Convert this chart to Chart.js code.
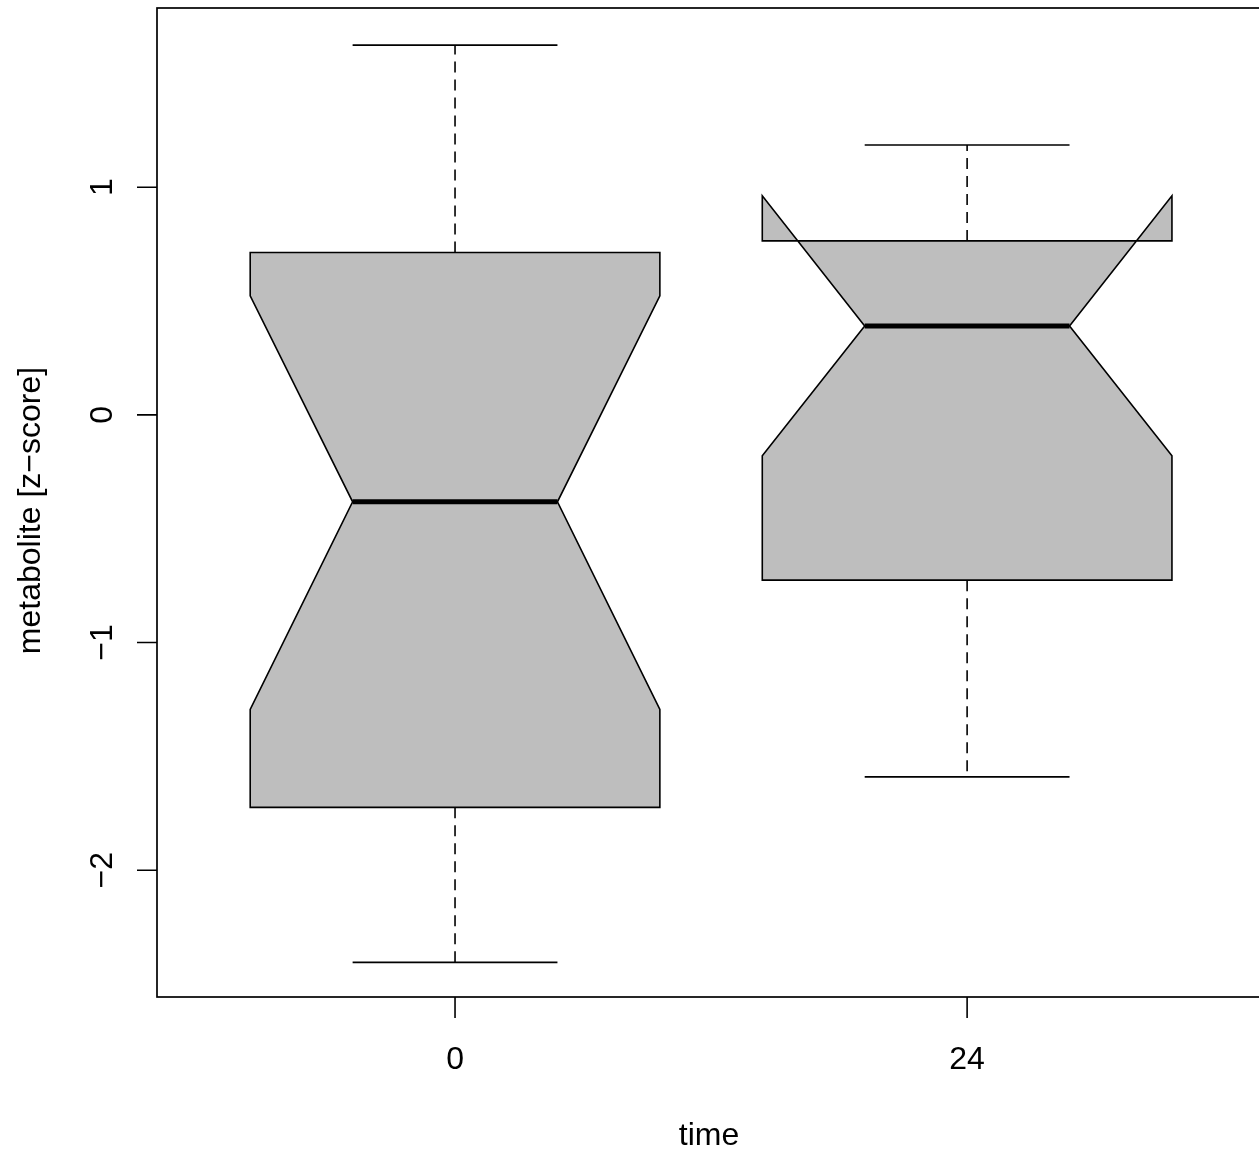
<!DOCTYPE html>
<html>
<head>
<meta charset="utf-8">
<script src="https://cdn.jsdelivr.net/npm/chart.js@4/dist/chart.umd.min.js"></script>
<style>
  html, body { margin: 0; padding: 0; background: #ffffff; overflow: hidden; }
  #wrap { width: 1259px; height: 1151px; position: relative; }
</style>
</head>
<body>
<div id="wrap"><canvas id="boxChart"></canvas></div>
<script>
// values (notched boxplot, metabolite z-score by time)
const groups = ['0', '24'];
const whiskerLow = [-2.405, -1.590];
const q1 = [-1.724, -0.726];
const median = [-0.382, 0.390];
const q3 = [0.713, 0.764];
const whiskerHigh = [1.624, 1.185];
const notchLow = [-1.294, -0.180];
const notchHigh = [0.523, 0.962];

const yTicks = [-2, -1, 0, 1];
const yTickLabels = ['\u22122', '\u22121', '0', '1'];
const xTitle = 'time';
const yTitle = 'metabolite [z\u2212score]';

const FONT = '32px "Liberation Sans", Arial, Helvetica, sans-serif';
const BOX_HALF = 0.4;   // x units
const NOTCH_HALF = 0.2;
const CAP_HALF = 0.2;

const rBoxplot = {
    id: 'rBoxplot',
    afterDatasetsDraw(chart) {
        var ctx = chart.ctx;
        var xs = chart.scales.x, ys = chart.scales.y;
        var area = chart.chartArea;
        ctx.save();
        ctx.lineJoin = 'miter';

        for (var i = 0; i < groups.length; i++) {
            var c = i + 1;
            var px = function(v) { return xs.getPixelForValue(v); };
            var py = function(v) { return ys.getPixelForValue(v); };

            // notched box
            ctx.beginPath();
            ctx.moveTo(px(c - BOX_HALF), py(q1[i]));
            ctx.lineTo(px(c - BOX_HALF), py(notchLow[i]));
            ctx.lineTo(px(c - NOTCH_HALF), py(median[i]));
            ctx.lineTo(px(c - BOX_HALF), py(notchHigh[i]));
            ctx.lineTo(px(c - BOX_HALF), py(q3[i]));
            ctx.lineTo(px(c + BOX_HALF), py(q3[i]));
            ctx.lineTo(px(c + BOX_HALF), py(notchHigh[i]));
            ctx.lineTo(px(c + NOTCH_HALF), py(median[i]));
            ctx.lineTo(px(c + BOX_HALF), py(notchLow[i]));
            ctx.lineTo(px(c + BOX_HALF), py(q1[i]));
            ctx.closePath();
            ctx.fillStyle = '#bebebe';
            ctx.fill();
            ctx.strokeStyle = '#000000';
            ctx.lineWidth = 1.6;
            ctx.stroke();

            // whiskers
            ctx.setLineDash([11, 7]);
            ctx.beginPath();
            ctx.moveTo(px(c), py(q3[i]));
            ctx.lineTo(px(c), py(whiskerHigh[i]));
            ctx.moveTo(px(c), py(q1[i]));
            ctx.lineTo(px(c), py(whiskerLow[i]));
            ctx.stroke();
            ctx.setLineDash([]);

            // staples
            ctx.beginPath();
            ctx.moveTo(px(c - CAP_HALF), py(whiskerHigh[i]));
            ctx.lineTo(px(c + CAP_HALF), py(whiskerHigh[i]));
            ctx.moveTo(px(c - CAP_HALF), py(whiskerLow[i]));
            ctx.lineTo(px(c + CAP_HALF), py(whiskerLow[i]));
            ctx.stroke();

            // median
            ctx.lineWidth = 5;
            ctx.lineCap = 'butt';
            ctx.beginPath();
            ctx.moveTo(px(c - NOTCH_HALF), py(median[i]));
            ctx.lineTo(px(c + NOTCH_HALF), py(median[i]));
            ctx.stroke();
        }

        // frame, open on the right like the cropped original
        ctx.lineWidth = 1.7;
        ctx.strokeStyle = '#000000';
        ctx.strokeRect(area.left, area.top, area.right - area.left + 10, area.bottom - area.top);

        // axes ticks + labels, R style
        ctx.lineWidth = 1.6;
        ctx.fillStyle = '#000000';
        ctx.font = FONT;
        ctx.beginPath();
        for (var t = 0; t < yTicks.length; t++) {
            var ty = ys.getPixelForValue(yTicks[t]);
            ctx.moveTo(area.left, ty);
            ctx.lineTo(area.left - 20, ty);
        }
        for (var g = 0; g < groups.length; g++) {
            var tx = xs.getPixelForValue(g + 1);
            ctx.moveTo(tx, area.bottom);
            ctx.lineTo(tx, area.bottom + 21);
        }
        ctx.stroke();

        ctx.textAlign = 'center';
        ctx.textBaseline = 'alphabetic';
        for (var g2 = 0; g2 < groups.length; g2++) {
            ctx.fillText(groups[g2], xs.getPixelForValue(g2 + 1), 1069);
        }
        ctx.fillText(xTitle, (area.left + area.right) / 2 + 1, 1145);

        for (var t2 = 0; t2 < yTicks.length; t2++) {
            ctx.save();
            ctx.translate(112, ys.getPixelForValue(yTicks[t2]));
            ctx.rotate(-Math.PI / 2);
            ctx.fillText(yTickLabels[t2], 0, 0);
            ctx.restore();
        }
        ctx.save();
        ctx.translate(40, (area.top + area.bottom) / 2 + 8);
        ctx.rotate(-Math.PI / 2);
        ctx.fillText(yTitle, 0, 0);
        ctx.restore();

        ctx.restore();
    }
};

var ctx = document.getElementById('boxChart').getContext('2d');
const chart = new Chart(ctx, {
    type: 'scatter',
    data: {
        datasets: [{ label: 'stats', data: [], pointRadius: 0 }]
    },
    options: {
        responsive: true,
        maintainAspectRatio: false,
        animation: false,
        events: [],
        layout: { padding: { left: 157, right: 0, top: 8, bottom: 154 } },
        plugins: { legend: { display: false }, tooltip: { enabled: false } },
        scales: {
            x: { type: 'linear', display: false, min: 0.418, max: 2.570 },
            y: { type: 'linear', display: false, min: -2.557, max: 1.787 }
        }
    },
    plugins: [rBoxplot]
});
</script>
</body>
</html>
